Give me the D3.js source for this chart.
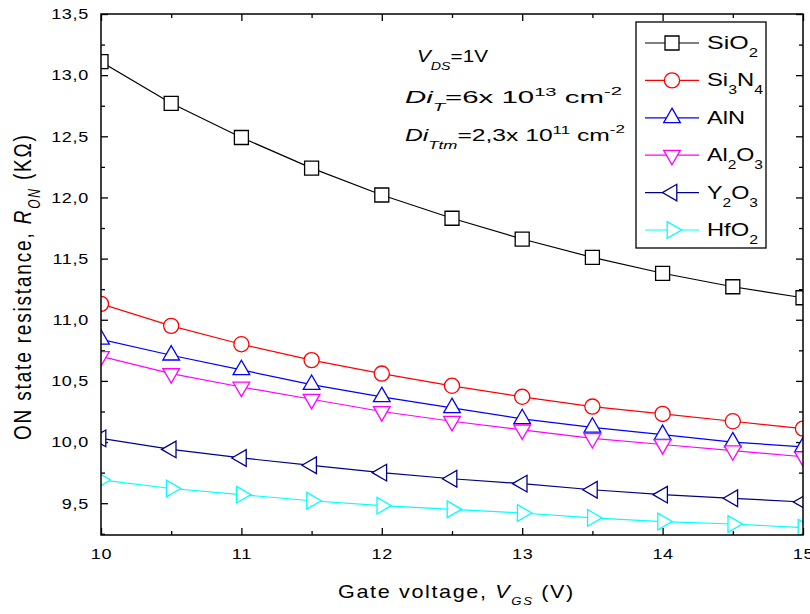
<!DOCTYPE html>
<html>
<head>
<meta charset="utf-8">
<script src="https://cdn.jsdelivr.net/npm/d3@7"></script>
<style>
  body { margin: 0; background: #fff; }
  text { font-family: "Liberation Sans", Arial, sans-serif; fill: #000; }
</style>
</head>
<body>
<div class="chart"></div>
<script>
// gate voltage (V)
var voltages = [10, 10.5, 11, 11.5, 12, 12.5, 13, 13.5, 14, 14.5, 15];

// ON resistance (KOhm) per dielectric
var sio2  = [13.11, 12.77, 12.49, 12.24, 12.02, 11.83, 11.66, 11.51, 11.38, 11.27, 11.18];
var si3n4 = [11.13, 10.95, 10.80, 10.67, 10.56, 10.46, 10.37, 10.29, 10.23, 10.17, 10.11];
var aln   = [10.84, 10.71, 10.59, 10.47, 10.37, 10.28, 10.19, 10.12, 10.06, 10.00, 9.96];
var al2o3 = [10.70, 10.56, 10.45, 10.35, 10.25, 10.17, 10.10, 10.03, 9.98, 9.93, 9.88];
var y2o3  = [10.03, 9.94, 9.87, 9.81, 9.75, 9.70, 9.66, 9.61, 9.57, 9.54, 9.51];
var hfo2  = [9.69, 9.62, 9.57, 9.52, 9.48, 9.45, 9.42, 9.38, 9.35, 9.33, 9.30];

// "|" switches between normal text and subscript
var seriesNames = ["SiO|2", "Si|3|N|4", "AlN", "Al|2|O|3", "Y|2|O|3", "HfO|2"];
var seriesValues = [sio2, si3n4, aln, al2o3, y2o3, hfo2];
var seriesColors = ["#000000", "#ff0000", "#0000ff", "#ff00ff", "#00008b", "#00ffff"];
var seriesMarkers = ["square", "circle", "up", "down", "left", "right"];

var xMajor = [10, 11, 12, 13, 14, 15];
var xMinor = [10.5, 11.5, 12.5, 13.5, 14.5];
var yMajor = [9.5, 10, 10.5, 11, 11.5, 12, 12.5, 13, 13.5];
var yMinor = [9.25, 9.75, 10.25, 10.75, 11.25, 11.75, 12.25, 12.75, 13.25];

var svgWidth = 810;
var svgHeight = 614;

var margin = { top: 14, right: 7, bottom: 79, left: 101 };
var width = svgWidth - margin.left - margin.right;
var height = svgHeight - margin.top - margin.bottom;

// the original picture is stretched sideways, text looks wide
var stretch = 1.2;

var svg = d3.select(".chart")
  .append("svg")
  .attr("width", svgWidth)
  .attr("height", svgHeight);

var chartGroup = svg.append("g")
  .attr("transform", `translate(${margin.left}, ${margin.top})`);

var x = d3.scaleLinear().domain([10, 15]).range([0, width]);
var y = d3.scaleLinear().domain([9.24, 13.5]).range([height, 0]);

var commaFmt = function(d) { return d3.format(".1f")(d).replace(".", ","); };

function styleAxis(g) {
  g.select(".domain").remove();
  g.selectAll("line").attr("stroke", "#000").attr("stroke-width", 1.3);
  g.selectAll("text")
    .attr("font-size", "15px")
    .attr("letter-spacing", "0.6px")
    .attr("transform", `scale(${stretch}, 1)`);
}

// bottom
chartGroup.append("g")
  .attr("transform", `translate(0, ${height})`)
  .call(d3.axisBottom(x).tickValues(xMajor).tickSize(-7).tickPadding(13).tickFormat(d3.format("d")))
  .call(styleAxis);
chartGroup.append("g")
  .attr("transform", `translate(0, ${height})`)
  .call(d3.axisBottom(x).tickValues(xMinor).tickSize(-4).tickFormat(""))
  .call(styleAxis);
// top
chartGroup.append("g")
  .call(d3.axisTop(x).tickValues(xMajor).tickSize(-7).tickFormat(""))
  .call(styleAxis);
chartGroup.append("g")
  .call(d3.axisTop(x).tickValues(xMinor).tickSize(-4).tickFormat(""))
  .call(styleAxis);
// left
chartGroup.append("g")
  .call(d3.axisLeft(y).tickValues(yMajor).tickSize(-7).tickPadding(12 / stretch).tickFormat(commaFmt))
  .call(styleAxis);
chartGroup.append("g")
  .call(d3.axisLeft(y).tickValues(yMinor).tickSize(-4).tickFormat(""))
  .call(styleAxis);
// right
chartGroup.append("g")
  .attr("transform", `translate(${width}, 0)`)
  .call(d3.axisRight(y).tickValues(yMajor).tickSize(-7).tickFormat(""))
  .call(styleAxis);
chartGroup.append("g")
  .attr("transform", `translate(${width}, 0)`)
  .call(d3.axisRight(y).tickValues(yMinor).tickSize(-4).tickFormat(""))
  .call(styleAxis);

chartGroup.append("clipPath")
  .attr("id", "plotClip")
  .append("rect")
  .attr("width", width)
  .attr("height", height);

function markerPath(kind) {
  if (kind === "square") return d3.symbol(d3.symbolSquare, 196)();
  if (kind === "circle") return d3.symbol(d3.symbolCircle, 180)();
  return d3.symbol(d3.symbolTriangle, 120)();
}
function markerRotate(kind) {
  if (kind === "down") return 180;
  if (kind === "left") return -90;
  if (kind === "right") return 90;
  return 0;
}

var plot = chartGroup.append("g").attr("clip-path", "url(#plotClip)");

var line = d3.line()
  .x(function(d, i) { return x(voltages[i]); })
  .y(function(d) { return y(d); });

seriesValues.forEach(function(vals, s) {
  var g = plot.append("g");
  g.append("path")
    .datum(vals)
    .attr("d", line)
    .attr("fill", "none")
    .attr("stroke", seriesColors[s])
    .attr("stroke-width", 1.2);
  g.selectAll("path.marker")
    .data(vals)
    .enter()
    .append("path")
    .attr("class", "marker")
    .attr("d", markerPath(seriesMarkers[s]))
    .attr("transform", function(d, i) {
      return `translate(${x(voltages[i])}, ${y(d)}) rotate(${markerRotate(seriesMarkers[s])})`;
    })
    .attr("fill", "#fff")
    .attr("stroke", seriesColors[s])
    .attr("stroke-width", 1.3);
});

// frame
chartGroup.append("rect")
  .attr("width", width)
  .attr("height", height)
  .attr("fill", "none")
  .attr("stroke", "#000")
  .attr("stroke-width", 1.5);

// stretch a text sideways so that it is targetWidth wide
function fitWidth(t, x0, y0, targetWidth) {
  var w = t.node().getComputedTextLength();
  t.attr("transform", `translate(${x0}, ${y0}) scale(${targetWidth / w}, 1)`);
}

// legend
var legend = svg.append("g").attr("transform", "translate(636, 22)");
legend.append("rect")
  .attr("width", 130)
  .attr("height", 226)
  .attr("fill", "#fff")
  .attr("stroke", "#000")
  .attr("stroke-width", 1.3);

var legendWidths = [51, 56, 38, 56, 51, 51];

seriesNames.forEach(function(name, s) {
  var ly = 21 + s * 37.4;
  legend.append("line")
    .attr("x1", 9).attr("x2", 63)
    .attr("y1", ly).attr("y2", ly)
    .attr("stroke", seriesColors[s])
    .attr("stroke-width", 1.2);
  legend.append("path")
    .attr("d", markerPath(seriesMarkers[s]))
    .attr("transform", `translate(36, ${ly}) rotate(${markerRotate(seriesMarkers[s])})`)
    .attr("fill", "#fff")
    .attr("stroke", seriesColors[s])
    .attr("stroke-width", 1.3);
  var t = legend.append("text").attr("font-size", "18px");
  name.split("|").forEach(function(part, k) {
    var sub = k % 2 === 1;
    t.append("tspan")
      .attr("font-size", sub ? "12px" : "18px")
      .attr("dy", sub ? 8 : (k > 0 ? -8 : 0))
      .text(part);
  });
  fitWidth(t, 71, ly + 6, legendWidths[s]);
});

// annotation
function richText(parts) {
  var t = svg.append("text").attr("font-size", "16px");
  var shift = 0;
  parts.forEach(function(p) {
    var target = p.dy || 0;
    t.append("tspan")
      .attr("dy", target - shift)
      .attr("font-size", p.size || "16px")
      .attr("font-style", p.italic ? "italic" : "normal")
      .text(p.t);
    shift = target;
  });
  return t;
}

fitWidth(richText([
  { t: "V", italic: true },
  { t: "DS", italic: true, size: "11px", dy: 8 },
  { t: "=1V" }
]), 417, 62, 71);
fitWidth(richText([
  { t: "Di", italic: true },
  { t: "T", italic: true, size: "11px", dy: 8 },
  { t: "=6x 10" },
  { t: "13", size: "11px", dy: -7 },
  { t: " cm" },
  { t: "-2", size: "11px", dy: -8 }
]), 405, 103, 217);
fitWidth(richText([
  { t: "Di", italic: true },
  { t: "Ttm", italic: true, size: "11px", dy: 8 },
  { t: "=2,3x 10" },
  { t: "11", size: "11px", dy: -7 },
  { t: " cm" },
  { t: "-2", size: "11px", dy: -8 }
]), 405, 141, 220);

// axis titles
var xTitle = svg.append("text")
  .attr("font-size", "18px");
xTitle.append("tspan").text("Gate voltage, ");
xTitle.append("tspan").attr("font-style", "italic").text("V");
xTitle.append("tspan").attr("font-style", "italic").attr("font-size", "11px").attr("dy", 7).text("GS");
xTitle.append("tspan").attr("dy", -7).text(" (V)");
var xLen = xTitle.node().getComputedTextLength();
var xGap = (237 / stretch - xLen) / xTitle.text().length;
xTitle.attr("letter-spacing", Math.max(0, xGap) + "px")
  .attr("transform", `translate(338, 598) scale(${stretch}, 1)`);

var yTitle = svg.append("text")
  .attr("font-size", "19px");
yTitle.append("tspan").text("ON state resistance, ");
yTitle.append("tspan").attr("font-style", "italic").text("R");
yTitle.append("tspan").attr("font-style", "italic").attr("font-size", "12px").attr("dy", 7).text("ON");
yTitle.append("tspan").attr("dy", -7).text(" (K\u03a9)");
var yLen = yTitle.node().getComputedTextLength();
var yGap = (307 - yLen) / yTitle.text().length;
yTitle.attr("letter-spacing", Math.max(0, yGap) + "px")
  .attr("transform", "translate(31, 440) scale(1.3, 1) rotate(-90)");
</script>
</body>
</html>
